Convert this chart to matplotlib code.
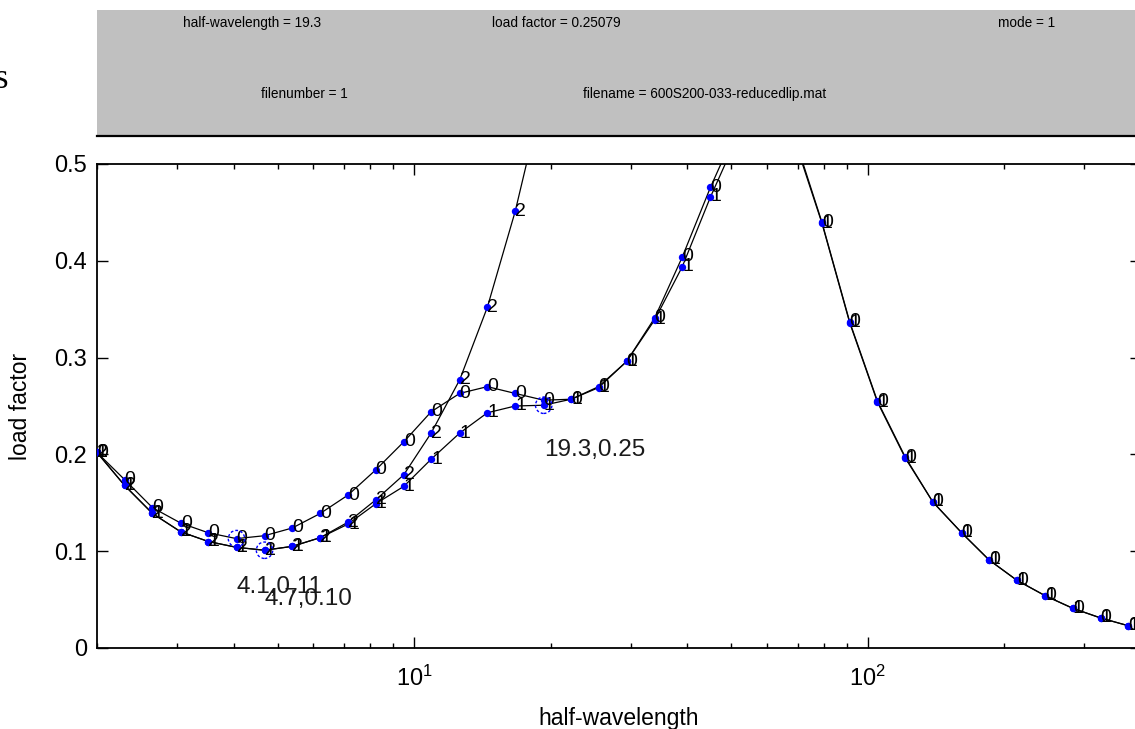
import matplotlib
matplotlib.use("Agg")
import matplotlib.pyplot as plt
from matplotlib.patches import Rectangle
from matplotlib.lines import Line2D
from matplotlib.ticker import NullFormatter

# ---------------- data ----------------
half_wavelength = [2.00, 2.30, 2.65, 3.06, 3.52, 4.06, 4.68, 5.39, 6.21, 7.15,
                   8.23, 9.49, 10.9, 12.6, 14.5, 16.7, 19.3, 22.2, 25.5, 29.4,
                   33.9, 39.0, 45.0, 51.8, 59.6, 68.7, 79.2, 91.2, 105, 121,
                   139, 161, 185, 213, 246, 283, 326, 375]

mode1_load = [0.202, 0.168, 0.139, 0.120, 0.110, 0.104, 0.101, 0.105, 0.114, 0.128,
              0.149, 0.167, 0.195, 0.222, 0.243, 0.250, 0.2508, 0.257, 0.269, 0.296,
              0.339, 0.394, 0.466, 0.530, 0.560, 0.527, 0.439, 0.336, 0.254, 0.196,
              0.151, 0.119, 0.091, 0.070, 0.054, 0.041, 0.031, 0.023]

mode2_length = half_wavelength[:17]
mode2_load = [0.202, 0.168, 0.139, 0.120, 0.110, 0.104, 0.101, 0.105, 0.114, 0.130,
              0.153, 0.179, 0.222, 0.277, 0.352, 0.451, 0.575]

curve0_load = [0.202, 0.174, 0.145, 0.129, 0.119, 0.113, 0.116, 0.124, 0.139, 0.158,
               0.184, 0.213, 0.244, 0.263, 0.270, 0.263, 0.256, 0.257, 0.270, 0.296,
               0.341, 0.404, 0.476, 0.540, 0.570, 0.530, 0.440, 0.337, 0.255, 0.197,
               0.151, 0.119, 0.091, 0.070, 0.054, 0.041, 0.031, 0.023]

curve_tags = ["1", "2", "0"]

marked_length = [4.06, 4.68, 19.3]
marked_load = [0.113, 0.101, 0.2508]
marked_offset = [0.050, 0.050, 0.046]

yticks = [0, 0.1, 0.2, 0.3, 0.4, 0.5]
ytick_labels = ["0", "0.1", "0.2", "0.3", "0.4", "0.5"]

header_row1 = ["half-wavelength = 19.3", "load factor = 0.25079", "mode = 1"]
header_row2 = ["filenumber = 1", "filename = 600S200-033-reducedlip.mat"]

# ---------------- style ----------------
plt.rcParams['font.family'] = ['Liberation Sans', 'DejaVu Sans']
plt.rcParams['mathtext.fontset'] = 'custom'
plt.rcParams['mathtext.rm'] = 'Liberation Sans'
plt.rcParams['mathtext.it'] = 'Liberation Sans:italic'
plt.rcParams['mathtext.bf'] = 'Liberation Sans:bold'

W, H = 1135, 729
fig = plt.figure(figsize=(W / 100, H / 100), dpi=100)
fig.patch.set_facecolor('white')

# header panel
fig.add_artist(Rectangle((97 / W, 1 - 136 / H), 1.0, 126 / H, transform=fig.transFigure,
                         facecolor='#c0c0c0', edgecolor='none', zorder=0))
fig.add_artist(Line2D([97 / W, 1.0], [1 - 136 / H] * 2, transform=fig.transFigure,
                      color='black', lw=1.6))
hfont = dict(family=['Liberation Sans', 'DejaVu Sans'], fontsize=9.8,
             ha='center', va='center', color='black')
for txt, xc in zip(header_row1, [252, 556, 1027]):
    fig.text(xc / W, 1 - 23 / H, txt, **hfont)
for txt, xc in zip(header_row2, [304, 705]):
    fig.text(xc / W, 1 - 94 / H, txt, **hfont)

# clipped text at left edge
fig.text(8.5 / W, 1 - 80 / H, "s", family=['Liberation Serif', 'DejaVu Serif'],
         fontsize=25, ha='right', va='center')

# axes
ax = fig.add_axes([97 / W, 1 - 648 / H, (1141 - 97) / W, (648 - 164) / H])
ax.set_xscale('log')
ax.set_xlim(2, 400)
ax.set_ylim(0, 0.5)

curves = [(half_wavelength, mode1_load), (mode2_length, mode2_load),
          (half_wavelength, curve0_load)]
for xs, ys in curves:
    ax.plot(xs, ys, '-', color='black', lw=0.9, zorder=2)
for xs, ys in curves:
    ax.plot(xs, ys, 'o', color='#0000ff', ms=5.3, mec='none', zorder=3)
for (xs, ys), tag in zip(curves, curve_tags):
    for xv, yv in zip(xs, ys):
        if yv <= 0.5:
            ax.text(xv, yv, tag, fontsize=14, ha='left', va='center',
                    color='black', zorder=4, clip_on=True)

ax.scatter(marked_length, marked_load, s=140, facecolors='none', edgecolors='#0000ff',
           linewidths=1.0, linestyles=(0, (2, 1.5)), zorder=5)
for xv, yv, off in zip(marked_length, marked_load, marked_offset):
    ax.text(xv, yv - off, f"{xv:.1f},{yv:.2f}", fontsize=17.5, ha='left', va='center',
            color='#1a1a1a', zorder=6)

ax.set_yticks(yticks, labels=ytick_labels)
ax.xaxis.set_minor_formatter(NullFormatter())
ax.tick_params(which='both', direction='in', top=True, right=True, colors='black')
ax.tick_params(which='major', length=8, width=1.0, labelsize=17)
ax.tick_params(which='minor', length=3.6, width=1.0)
ax.tick_params(axis='y', pad=7)
ax.tick_params(axis='x', pad=13)
for sp in ax.spines.values():
    sp.set_linewidth(1.3)

ax.set_xlabel("half-wavelength", fontsize=16.5)
ax.set_ylabel("load factor", fontsize=16.5)
ax.xaxis.set_label_coords(0.5, -0.122)
ax.yaxis.set_label_coords(-0.062, 0.5)

fig.savefig("out.png", dpi=100, facecolor='white')
